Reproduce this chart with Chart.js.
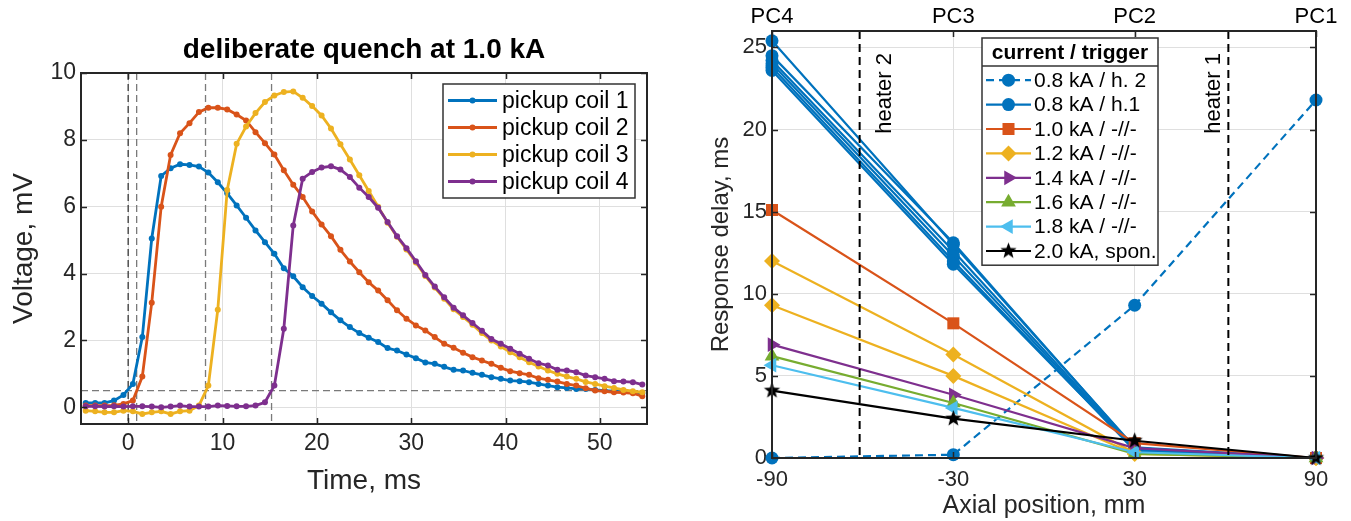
<!DOCTYPE html>
<html>
<head>
<meta charset="utf-8">
<title>Pickup coil signals and response delay</title>
<script src="https://cdn.jsdelivr.net/npm/chart.js@4.4.1/dist/chart.umd.min.js"></script>
<style>
  html, body { margin: 0; padding: 0; background: #fff; }
  #wrap { position: relative; width: 1351px; height: 521px; overflow: hidden; }
  #voltageChart { position: absolute; left: 0; top: 0; }
  #delayChart { position: absolute; left: 680px; top: 0; }
</style>
</head>
<body>
<div id="wrap">
  <canvas id="voltageChart" width="670" height="521"></canvas>
  <canvas id="delayChart" width="671" height="521"></canvas>
</div>
<script>
// ---------- left panel: pickup coil voltage vs time ----------
const timeMs = [-4.5, -3.5, -2.5, -1.5, -0.5, 0.5, 1.5, 2.5, 3.5, 4.5,
  5.5, 6.5, 7.5, 8.5, 9.5, 10.5, 11.5, 12.5, 13.5, 14.5,
  15.5, 16.5, 17.5, 18.5, 19.5, 20.5, 21.5, 22.5, 23.5, 24.5,
  25.5, 26.5, 27.5, 28.5, 29.5, 30.5, 31.5, 32.5, 33.5, 34.5,
  35.5, 36.5, 37.5, 38.5, 39.5, 40.5, 41.5, 42.5, 43.5, 44.5,
  45.5, 46.5, 47.5, 48.5, 49.5, 50.5, 51.5, 52.5, 53.5, 54.5];

const coil1 = [0.13, 0.13, 0.13, 0.2, 0.37, 0.7, 2.1, 5.05, 6.92, 7.15,
  7.27, 7.25, 7.2, 7.02, 6.73, 6.4, 6.04, 5.67, 5.29, 4.94,
  4.59, 4.16, 3.92, 3.59, 3.33, 3.1, 2.84, 2.6, 2.4, 2.22,
  2.08, 1.95, 1.77, 1.7, 1.58, 1.47, 1.34, 1.3, 1.21, 1.12,
  1.1, 1.03, 0.97, 0.9, 0.85, 0.8, 0.78, 0.75, 0.7, 0.65,
  0.6, 0.58, 0.55, 0.55, 0.52, 0.5, 0.48, 0.48, 0.45, 0.42];

const coil2 = [0.05, 0.05, 0.05, 0.06, 0.1, 0.2, 0.92, 3.13, 6.0, 7.55,
  8.2, 8.5, 8.83, 8.96, 8.96, 8.91, 8.76, 8.58, 8.23, 7.9,
  7.56, 7.09, 6.66, 6.29, 5.86, 5.47, 5.12, 4.71, 4.36, 4.04,
  3.74, 3.49, 3.2, 2.9, 2.65, 2.45, 2.3, 2.1, 1.9, 1.78,
  1.63, 1.5, 1.4, 1.3, 1.18, 1.08, 1.02, 0.97, 0.87, 0.82,
  0.77, 0.7, 0.65, 0.57, 0.5, 0.48, 0.45, 0.44, 0.42, 0.33];

const coil3 = [-0.1, -0.12, -0.15, -0.15, -0.1, -0.12, -0.2, -0.15, -0.12, -0.2,
  -0.12, -0.1, 0.05, 0.65, 2.92, 6.5, 7.88, 8.4, 8.8, 9.13,
  9.33, 9.43, 9.45, 9.26, 9.01, 8.73, 8.34, 7.87, 7.41, 6.94,
  6.47, 6.0, 5.52, 5.1, 4.72, 4.33, 3.93, 3.58, 3.25, 2.93,
  2.7, 2.47, 2.22, 2.0, 1.82, 1.65, 1.5, 1.35, 1.22, 1.1,
  1.0, 0.92, 0.85, 0.76, 0.7, 0.63, 0.58, 0.52, 0.48, 0.45];

const coil4 = [0.03, 0.03, 0.02, 0.03, 0.02, 0.03, 0.03, 0.02, 0.0, 0.02,
  0.05, 0.02, 0.02, 0.02, 0.05, 0.04, 0.03, 0.03, 0.05, 0.15,
  0.65, 2.35, 5.44, 6.84, 7.04, 7.17, 7.21, 7.11, 6.89, 6.57,
  6.29, 5.97, 5.54, 5.12, 4.76, 4.37, 3.96, 3.61, 3.29, 2.98,
  2.75, 2.52, 2.29, 2.04, 1.9, 1.75, 1.6, 1.45, 1.32, 1.25,
  1.12, 1.1, 1.05, 0.95, 0.9, 0.85, 0.78, 0.77, 0.75, 0.68];

const coilLabels = ['pickup coil 1', 'pickup coil 2', 'pickup coil 3', 'pickup coil 4'];
const eventTimes = [0, 0.9, 8.2, 15.2];   // quench start and arrival at each coil
const thresholdMv = 0.5;
const timeTicks = [0, 10, 20, 30, 40, 50];
const voltTicks = [0, 2, 4, 6, 8, 10];

// ---------- right panel: response delay vs axial position ----------
const axialPos = [-90, -30, 30, 90];
const coilNames = ['PC4', 'PC3', 'PC2', 'PC1'];
const delayTicks = [0, 5, 10, 15, 20, 25];
const heaterPos = [-61, 61];
const heaterNames = ['heater 2', 'heater 1'];

const delay08h2 = [0, 0.2, 9.3, 21.8];
const delay08h1 = [
  [25.4, 13.0, 0.65, 0],
  [24.5, 13.1, 0.6, 0],
  [24.2, 12.6, 0.55, 0],
  [24.0, 12.3, 0.5, 0],
  [23.8, 12.0, 0.45, 0],
  [23.6, 11.8, 0.5, 0]
];
const delay10 = [15.1, 8.2, 0.9, 0];
const delay12 = [
  [12.0, 6.3, 0.3, 0],
  [9.3, 5.0, 0.25, 0]
];
const delay14 = [6.9, 3.85, 0.6, 0];
const delay16 = [6.2, 3.35, 0.25, 0];
const delay18 = [5.65, 3.05, 0.35, 0];
const delay20 = [4.1, 2.4, 1.05, 0];

const runLabels = ['0.8 kA / h. 2', '0.8 kA / h.1', '1.0 kA / -//-', '1.2 kA / -//-',
  '1.4 kA / -//-', '1.6 kA / -//-', '1.8 kA / -//-', '2.0 kA, spon.'];
const runGroups = [[delay08h2], delay08h1, [delay10], delay12, [delay14], [delay16], [delay18], [delay20]];

// ---------- styling ----------
const FONT = '"Liberation Sans", Arial, Helvetica, sans-serif';
const INK = '#262626';
const GRID = '#dfdfdf';
Chart.defaults.font.family = FONT;
Chart.defaults.color = INK;

function makeStar(r, color) {
  const c = document.createElement('canvas');
  const s = Math.ceil(r * 2 + 2);
  c.width = s; c.height = s;
  const g = c.getContext('2d');
  g.fillStyle = color;
  g.beginPath();
  for (let k = 0; k < 10; k++) {
    const rad = k % 2 ? r * 0.42 : r;
    const a = -Math.PI / 2 + k * Math.PI / 5;
    g.lineTo(s / 2 + rad * Math.cos(a), s / 2 + rad * Math.sin(a));
  }
  g.closePath();
  g.fill();
  return c;
}

function drawMarker(ctx, ds, x, y) {
  const style = ds.pointStyle;
  if (style instanceof HTMLCanvasElement) {
    ctx.drawImage(style, x - style.width / 2, y - style.height / 2);
    return;
  }
  ctx.fillStyle = ds.backgroundColor;
  Chart.helpers.drawPoint(ctx, {
    pointStyle: style || 'circle',
    radius: ds.pointRadius,
    rotation: ds.pointRotation || 0,
    borderWidth: 0
  }, x, y);
}

// box round the axes with inward tick marks, as on a MATLAB axes
const framePlugin = {
  id: 'frame',
  afterDraw(chart, args, o) {
    const { ctx, chartArea: a } = chart;
    const xs = chart.scales.x, ys = chart.scales.y;
    ctx.save();
    ctx.strokeStyle = INK;
    ctx.lineWidth = 1.5;
    ctx.beginPath();
    xs.ticks.forEach(t => {
      const p = Math.round(xs.getPixelForValue(t.value)) + 0.5;
      ctx.moveTo(p, a.bottom); ctx.lineTo(p, a.bottom - o.tick);
      ctx.moveTo(p, a.top); ctx.lineTo(p, a.top + o.tick);
    });
    ys.ticks.forEach(t => {
      const p = Math.round(ys.getPixelForValue(t.value)) + 0.5;
      ctx.moveTo(a.left, p); ctx.lineTo(a.left + o.tick, p);
      ctx.moveTo(a.right, p); ctx.lineTo(a.right - o.tick, p);
    });
    ctx.stroke();
    ctx.lineWidth = 2;
    ctx.strokeRect(a.left, a.top, a.right - a.left, a.bottom - a.top);
    ctx.restore();
  }
};

// dashed guide lines behind the curves
const guidePlugin = {
  id: 'guides',
  beforeDatasetsDraw(chart, args, o) {
    if (!o.xs) return;
    const { ctx, chartArea: a, scales: { x, y } } = chart;
    ctx.save();
    ctx.lineWidth = 1.3;
    ctx.setLineDash([7, 4]);
    o.xs.forEach((v, i) => {
      const p = x.getPixelForValue(v);
      ctx.strokeStyle = i === 0 ? '#3a3a3a' : '#7a7a7a';
      ctx.beginPath(); ctx.moveTo(p, a.top); ctx.lineTo(p, a.bottom); ctx.stroke();
    });
    (o.ys || []).forEach(v => {
      const p = y.getPixelForValue(v);
      ctx.strokeStyle = '#7a7a7a';
      ctx.beginPath(); ctx.moveTo(a.left, p); ctx.lineTo(a.right, p); ctx.stroke();
    });
    ctx.restore();
  }
};

// heater positions: black dashed lines with vertical labels
const heaterPlugin = {
  id: 'heaters',
  afterDatasetsDraw(chart, args, o) {
    if (!o.pos) return;
    const { ctx, chartArea: a, scales: { x } } = chart;
    ctx.save();
    ctx.strokeStyle = '#000';
    ctx.lineWidth = 2;
    ctx.setLineDash([8, 5]);
    o.pos.forEach((v, i) => {
      const p = x.getPixelForValue(v);
      ctx.beginPath(); ctx.moveTo(p, a.top); ctx.lineTo(p, a.bottom); ctx.stroke();
      ctx.save();
      ctx.translate(p + o.textOffset[i], a.top + 22);
      ctx.rotate(-Math.PI / 2);
      ctx.fillStyle = '#000';
      ctx.font = '22px ' + FONT;
      ctx.textAlign = 'right';
      ctx.textBaseline = 'alphabetic';
      ctx.fillText(o.names[i], 0, 0);
      ctx.restore();
    });
    ctx.restore();
  }
};

const titlePlugin = {
  id: 'panelTitle',
  afterDraw(chart, args, o) {
    if (!o.text) return;
    const { ctx, chartArea: a } = chart;
    ctx.save();
    ctx.font = 'bold ' + o.size + 'px ' + FONT;
    ctx.fillStyle = '#000';
    ctx.textAlign = 'center';
    ctx.textBaseline = 'alphabetic';
    ctx.fillText(o.text, (a.left + a.right) / 2, o.y);
    ctx.restore();
  }
};

// boxed legend, one row per distinct dataset label
const legendPlugin = {
  id: 'boxLegend',
  afterDraw(chart, args, o) {
    const ctx = chart.ctx;
    const seen = new Set();
    const rows = chart.data.datasets.filter(ds => {
      if (seen.has(ds.label)) return false;
      seen.add(ds.label);
      return true;
    });
    const top = o.y;
    const bodyTop = o.title ? top + o.titleH : top;
    const h = (o.title ? o.titleH : 0) + o.pad * 2 + rows.length * o.rowH;
    ctx.save();
    ctx.fillStyle = '#fff';
    ctx.fillRect(o.x, top, o.w, h);
    ctx.strokeStyle = '#333';
    ctx.lineWidth = 1.5;
    ctx.strokeRect(o.x, top, o.w, h);
    if (o.title) {
      ctx.beginPath(); ctx.moveTo(o.x, bodyTop); ctx.lineTo(o.x + o.w, bodyTop); ctx.stroke();
      ctx.fillStyle = '#000';
      ctx.font = 'bold ' + o.size + 'px ' + FONT;
      ctx.textAlign = 'center';
      ctx.textBaseline = 'middle';
      ctx.fillText(o.title, o.x + o.w / 2, top + o.titleH / 2 + 1);
    }
    rows.forEach((ds, i) => {
      const cy = bodyTop + o.pad + o.rowH * (i + 0.5);
      const x0 = o.x + o.sample[0], x1 = o.x + o.sample[1];
      ctx.strokeStyle = ds.borderColor;
      ctx.lineWidth = ds.borderWidth;
      ctx.setLineDash(ds.borderDash || []);
      ctx.beginPath(); ctx.moveTo(x0, cy); ctx.lineTo(x1, cy); ctx.stroke();
      ctx.setLineDash([]);
      drawMarker(ctx, ds, (x0 + x1) / 2, cy);
      ctx.fillStyle = '#000';
      ctx.font = o.size + 'px ' + FONT;
      ctx.textAlign = 'left';
      ctx.textBaseline = 'middle';
      ctx.fillText(ds.label, o.x + o.textX, cy + 1);
    });
    ctx.restore();
  }
};

const sharedPlugins = [guidePlugin, heaterPlugin, framePlugin, titlePlugin, legendPlugin];

// ---------- left chart ----------
const coilColors = ['#0072BD', '#D95319', '#EDB120', '#7E2F8E'];
const coilSeries = [coil1, coil2, coil3, coil4];

new Chart(document.getElementById('voltageChart'), {
  type: 'line',
  data: {
    datasets: coilSeries.map((vals, i) => ({
      label: coilLabels[i],
      data: timeMs.map((t, k) => ({ x: t, y: vals[k] })),
      borderColor: coilColors[i],
      backgroundColor: coilColors[i],
      borderWidth: 2.8,
      pointRadius: 3,
      pointBorderWidth: 0,
      pointHoverRadius: 3,
      tension: 0,
      order: coilSeries.length - i
    }))
  },
  options: {
    responsive: false,
    animation: false,
    events: [],
    layout: { padding: { left: 0, right: 23, top: 73, bottom: 0 } },
    scales: {
      x: {
        type: 'linear', min: -5, max: 55,
        afterBuildTicks: s => { s.ticks = timeTicks.map(v => ({ value: v })); },
        afterFit: s => { s.height = 97; },
        grid: { color: GRID, drawTicks: false },
        border: { display: false },
        ticks: { font: { size: 23 }, color: INK, padding: 6, maxRotation: 0 },
        title: { display: true, text: 'Time, ms', font: { size: 28 }, color: INK, padding: { bottom: 23 } }
      },
      y: {
        type: 'linear', min: -0.5, max: 10,
        afterBuildTicks: s => { s.ticks = voltTicks.map(v => ({ value: v })); },
        afterFit: s => { s.width = 81; },
        grid: { color: GRID, drawTicks: false },
        border: { display: false },
        ticks: { font: { size: 23 }, color: INK, padding: 5 },
        title: { display: true, text: 'Voltage, mV', font: { size: 28 }, color: INK, padding: { top: 7 } }
      }
    },
    plugins: {
      legend: { display: false },
      tooltip: { enabled: false },
      guides: { xs: eventTimes, ys: [thresholdMv] },
      frame: { tick: 6 },
      panelTitle: { text: 'deliberate quench at 1.0 kA', size: 28, y: 58 },
      boxLegend: { x: 443, y: 84, w: 192, pad: 3, rowH: 27, size: 23, sample: [5, 54], textX: 59 }
    }
  },
  plugins: sharedPlugins
});

// ---------- right chart ----------
const starMark = makeStar(8.5, '#000');
const runLook = [
  { color: '#0072BD', marker: 'circle', r: 6.5, dash: [8, 5] },
  { color: '#0072BD', marker: 'circle', r: 6.5 },
  { color: '#D95319', marker: 'rect', r: 8.5 },
  { color: '#EDB120', marker: 'rectRot', r: 8 },
  { color: '#7E2F8E', marker: 'triangle', r: 8.5, rot: 90 },
  { color: '#77AC30', marker: 'triangle', r: 8.5 },
  { color: '#4DBEEE', marker: 'triangle', r: 8.5, rot: -90 },
  { color: '#000000', marker: starMark, r: 8.5 }
];

const delaySets = [];
runGroups.forEach((runs, i) => {
  const look = runLook[i];
  runs.forEach(run => {
    delaySets.push({
      label: runLabels[i],
      data: axialPos.map((p, k) => ({ x: p, y: run[k] })),
      borderColor: look.color,
      backgroundColor: look.color,
      borderWidth: 2.2,
      borderDash: look.dash || [],
      pointStyle: look.marker,
      pointRadius: look.r,
      pointHoverRadius: look.r,
      pointRotation: look.rot || 0,
      pointBorderWidth: 0,
      tension: 0,
      clip: false
    });
  });
});
delaySets.forEach((ds, i) => { ds.order = delaySets.length - i; });

new Chart(document.getElementById('delayChart'), {
  type: 'line',
  data: { datasets: delaySets },
  options: {
    responsive: false,
    animation: false,
    events: [],
    layout: { padding: { left: 0, right: 35, top: 0, bottom: 0 } },
    scales: {
      x: {
        type: 'linear', min: -90, max: 90,
        afterBuildTicks: s => { s.ticks = axialPos.map(v => ({ value: v })); },
        afterFit: s => { s.height = 63; },
        grid: { color: GRID, drawTicks: false },
        border: { display: false },
        ticks: { font: { size: 22 }, color: INK, padding: 9, maxRotation: 0 },
        title: { display: true, text: 'Axial position, mm', font: { size: 25 }, color: INK, padding: { bottom: 0 } }
      },
      x2: {
        type: 'linear', position: 'top', min: -90, max: 90,
        afterBuildTicks: s => { s.ticks = axialPos.map(v => ({ value: v })); },
        afterFit: s => { s.height = 31; },
        grid: { display: false, drawTicks: false },
        border: { display: false },
        ticks: { font: { size: 22 }, color: '#000', padding: 1, maxRotation: 0,
          callback: (v, i) => coilNames[i] }
      },
      y: {
        type: 'linear', min: 0, max: 26,
        afterBuildTicks: s => { s.ticks = delayTicks.map(v => ({ value: v })); },
        afterFit: s => { s.width = 92; },
        grid: { color: GRID, drawTicks: false },
        border: { display: false },
        ticks: { font: { size: 22 }, color: INK, padding: 5 },
        title: { display: true, text: 'Response delay, ms', font: { size: 24 }, color: INK, padding: { top: 27 } }
      }
    },
    plugins: {
      legend: { display: false },
      tooltip: { enabled: false },
      heaters: { pos: heaterPos, names: heaterNames, textOffset: [31, -8] },
      frame: { tick: 6 },
      boxLegend: { x: 302, y: 38, w: 176, pad: 2, rowH: 24.4, size: 21, title: 'current / trigger',
        titleH: 28, sample: [4, 49], textX: 52 }
    }
  },
  plugins: sharedPlugins
});
</script>
</body>
</html>
